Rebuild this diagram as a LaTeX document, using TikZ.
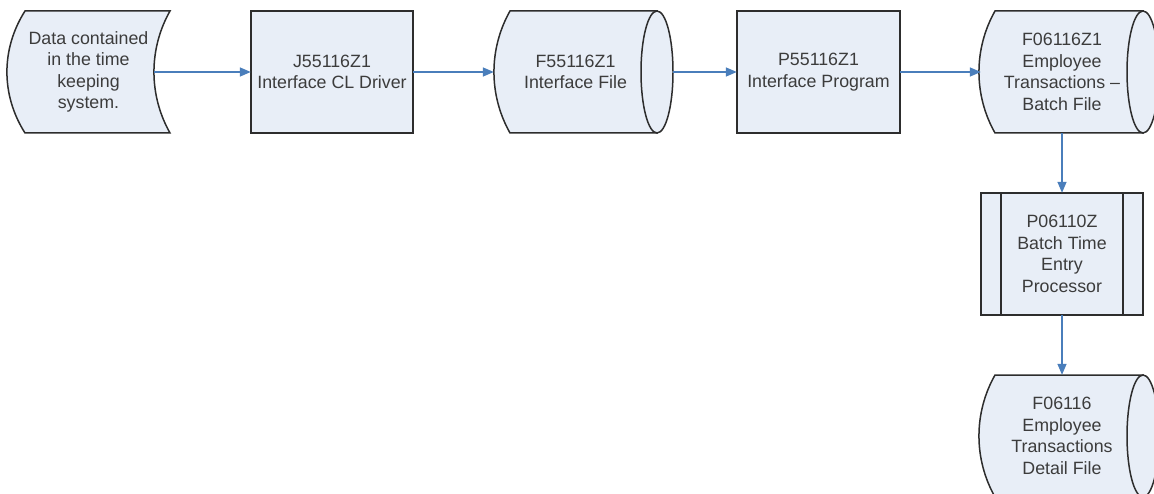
\documentclass[tikz,border=0pt]{standalone}
\usepackage{fontspec}
\setmainfont{Liberation Sans}
\usetikzlibrary{arrows.meta}
\definecolor{fillc}{RGB}{232,238,247}
\definecolor{bordc}{RGB}{45,45,45}
\definecolor{textc}{RGB}{60,60,60}
\definecolor{arrc}{RGB}{74,126,187}
\tikzset{
  shp/.style={draw=bordc, fill=fillc, line width=1.5pt, line join=miter},
  lbl/.style={draw=none, inner sep=0pt, align=center, text=textc,
    font=\fontsize{17.8}{21.6}\selectfont, minimum height=122pt},
  flow/.style={draw=arrc, line width=1.5pt, -{Triangle[length=11pt,width=9pt]}},
}
\begin{document}
\begin{tikzpicture}[x=1pt,y=-1pt]
\useasboundingbox[fill=white] (0,0) rectangle (1154,494);
\begin{scope}
\clip (0,0) rectangle (1154,494);
% shape 1: data in time keeping system
\draw[shp] (25,11) -- (170,11)
  .. controls (148.6,48.9) and (148.6,95.1) .. (170,133)
  -- (25,133)
  .. controls (0.9,95.1) and (0.9,48.9) .. (25,11) -- cycle;
% box 2
\draw[shp] (251,11) rectangle (413,133);
% cylinder 3
\draw[shp] (510,11) -- (657,11) -- (657,133) -- (510,133)
  .. controls (488.6,95.1) and (488.6,48.9) .. (510,11) -- cycle;
\draw[shp] (657,72) ellipse [x radius=16, y radius=61];
% box 4
\draw[shp] (737,11) rectangle (900,133);
% cylinder 5
\draw[shp] (995,11) -- (1143,11) -- (1143,133) -- (995,133)
  .. controls (973.6,95.1) and (973.6,48.9) .. (995,11) -- cycle;
\draw[shp] (1143,72) ellipse [x radius=16, y radius=61];
% predefined process 6
\draw[shp] (981,193) rectangle (1143,315);
\draw[draw=bordc, line width=1.5pt] (1001,193) -- (1001,315);
\draw[draw=bordc, line width=1.5pt] (1123,193) -- (1123,315);
% cylinder 7
\draw[shp] (995,375) -- (1143,375) -- (1143,497) -- (995,497)
  .. controls (973.6,459.1) and (973.6,412.9) .. (995,375) -- cycle;
\draw[shp] (1143,436) ellipse [x radius=16, y radius=61];
\end{scope}
% text nodes (extent of each shape)
\node[lbl, minimum width=163pt] (s1) at (88.5,72) {Data contained\\in the time\\keeping\\system.};
\node[lbl, minimum width=162pt] (s2) at (332,72) {J55116Z1\\Interface CL Driver};
\node[lbl, minimum width=163pt] (s3) at (575.5,72) {F55116Z1\\Interface File};
\node[lbl, minimum width=163pt] (s4) at (818.5,72) {P55116Z1\\Interface Program};
\node[lbl, minimum width=162pt] (s5) at (1062,72) {F06116Z1\\Employee\\Transactions --\\Batch File};
\node[lbl, minimum width=162pt] (s6) at (1062,254) {P06110Z\\Batch Time\\Entry\\Processor};
\node[lbl, minimum width=162pt] (s7) at (1062,436) {F06116\\Employee\\Transactions\\Detail File};
% connectors
\draw[flow] ([xshift=-16pt]s1.east) -- (s2.west);
\draw[flow] (s2.east) -- (s3.west);
\draw[flow] ([xshift=16pt]s3.east) -- (s4.west);
\draw[flow] (s4.east) -- (s5.west);
\draw[flow] (s5.south) -- (s6.north);
\draw[flow] (s6.south) -- (s7.north);
\end{tikzpicture}
\end{document}
